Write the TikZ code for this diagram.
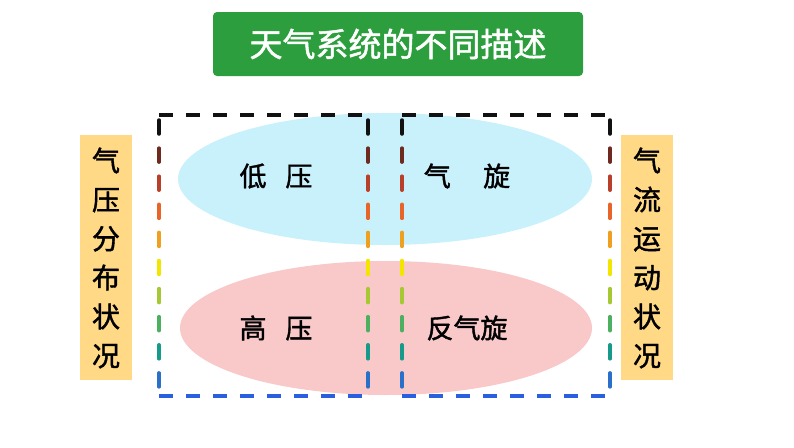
\documentclass[tikz,border=0pt]{standalone}
\usepackage{fontspec}
\newfontfamily\cjk[FakeBold=1.5]{Noto Sans CJK SC}
\begin{document}
\begin{tikzpicture}[x=1pt,y=-1pt,
  lbl/.style={font=\cjk\fontsize{27}{27}\selectfont,text=black},
  side/.style={fill=sidey,draw=none},
  ell/.style={draw=none}]
\definecolor{sidey}{HTML}{FFD986}
\definecolor{ttl}{HTML}{2C9E3E}
\definecolor{lblue}{HTML}{C9F1FB}
\definecolor{lpink}{HTML}{F9C9C9}
\definecolor{c0}{HTML}{111111}\definecolor{c1}{HTML}{6E2A1E}\definecolor{c2}{HTML}{B8402A}
\definecolor{c3}{HTML}{E8652A}\definecolor{c4}{HTML}{F0A020}\definecolor{c5}{HTML}{F2E600}
\definecolor{c6}{HTML}{A6C832}\definecolor{c7}{HTML}{4CB060}\definecolor{c8}{HTML}{169A8A}
\definecolor{c9}{HTML}{2A70C8}\definecolor{dblue}{HTML}{2A5FE0}
\useasboundingbox (0,0) rectangle (794,447);
\node[fill=ttl,rounded corners=4pt,minimum width=370,minimum height=64,inner sep=0,
  text=white,font=\cjk\fontsize{33}{33}\selectfont] (title) at (398,44) {天气系统的不同描述};
\fill[lblue] (385,179) ellipse[x radius=207,y radius=66];
\fill[lpink] (386,328) ellipse[x radius=206,y radius=67];
\node[lbl] (dy) at (276,176) {低\hspace{0.7em}压};
\node[lbl] (qx) at (467,176) {气\hspace{1.2em}旋};
\node[lbl] (gy) at (276,328) {高\hspace{0.7em}压};
\node[lbl] (fqx) at (467,328) {反气旋};
\fill[side] (80,135) rectangle (132,380);
\fill[side] (621,135) rectangle (673,380);
\node[lbl,align=center,font=\cjk\fontsize{28}{39}\selectfont] (ls) at (106,258) {气\\压\\分\\布\\状\\况};
\node[lbl,align=center,font=\cjk\fontsize{28}{39}\selectfont] (rs) at (647,258) {气\\流\\运\\动\\状\\况};
\foreach \xa/\xb in {159/368,402/610}{
  \draw[c0,line width=3.5pt,dash pattern=on 14 off 13] (\xa,115) -- (\xb,115);
  \draw[dblue,line width=3.5pt,dash pattern=on 14 off 13] (\xa,396) -- (\xb,396);
  \foreach \i in {0,...,9}{
    \pgfmathsetmacro\ya{115+\i*28.1+5}
    \pgfmathsetmacro\yb{\ya+14}
    \draw[c\i,line width=3.5pt,line cap=round] (\xa,\ya) -- (\xa,\yb);
    \draw[c\i,line width=3.5pt,line cap=round] (\xb,\ya) -- (\xb,\yb);
  }
}
\end{tikzpicture}
\end{document}
